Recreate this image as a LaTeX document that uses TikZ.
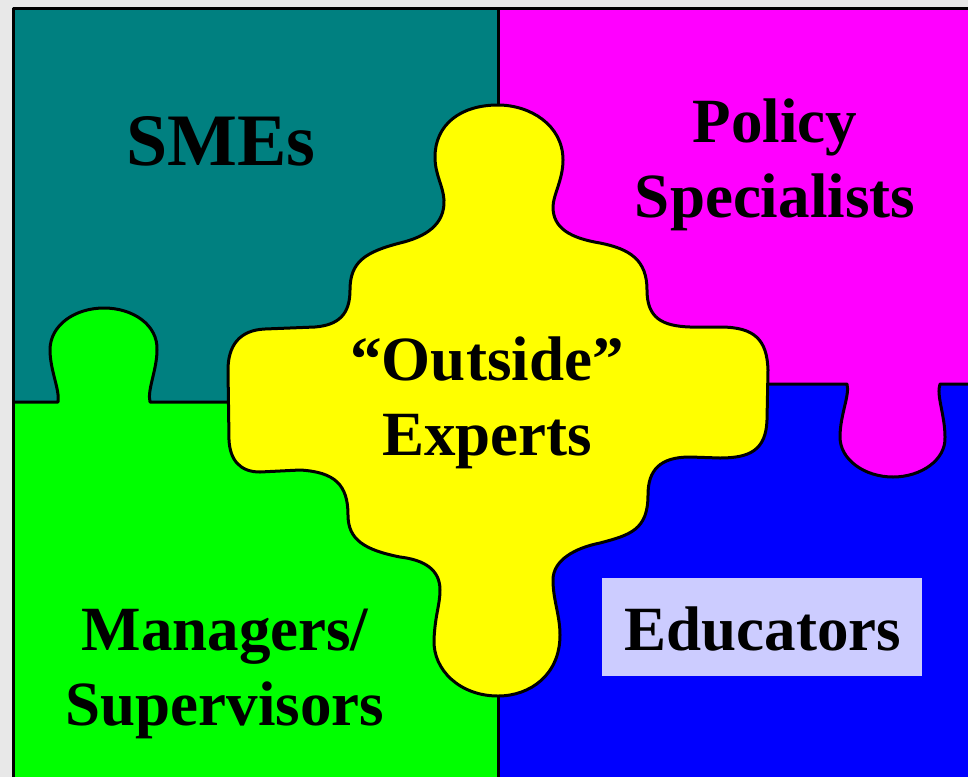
\documentclass[tikz,border=0pt]{standalone}
\usepackage{fontspec}
\setmainfont{Liberation Serif}
\definecolor{bgray}{HTML}{E8E8E8}
\definecolor{teal1}{HTML}{008080}
\definecolor{mag1}{HTML}{FF00FF}
\definecolor{blue1}{HTML}{0000FF}
\definecolor{green1}{HTML}{00FF00}
\definecolor{yel1}{HTML}{FFFF00}
\definecolor{lav1}{HTML}{CCCCFF}
\begin{document}
\begin{tikzpicture}[x=1pt,y=-1pt,
  edge/.style={draw=black,line width=3pt,line join=round},
  bigtext/.style={font=\bfseries\fontsize{63}{75}\selectfont,align=center,inner sep=0pt,text=black},
  hugetext/.style={font=\bfseries\fontsize{74}{88}\selectfont,inner sep=0pt,text=black}]
\useasboundingbox (0,0) rectangle (968,777);
\fill[bgray] (0,0) rectangle (968,777);
% quadrants
\fill[teal1] (13,8) rectangle (498,402);
\fill[mag1] (498,8) rectangle (968,384);
\fill[blue1] (498,384) rectangle (968,777);
\fill[green1] (13,402) rectangle (498,777);
% green tab into teal
\fill[green1] (58,403) .. controls (60,390) and (50,370) .. (50,350)
  .. controls (50,325) and (75,308) .. (104,308)
  .. controls (133,308) and (158,325) .. (157,350)
  .. controls (157,370) and (147,390) .. (150,403) -- cycle;
% magenta tab into blue
\fill[mag1] (847,383) .. controls (850,395) and (840,415) .. (840,437)
  .. controls (840,460) and (865,477) .. (893,477)
  .. controls (921,477) and (946,460) .. (945,437)
  .. controls (945,415) and (936,395) .. (940,383) -- cycle;
% borders
\draw[edge] (13,777) -- (13,8) -- (968,8);
\draw[edge] (498,8) -- (498,777);
\draw[edge] (13,402) -- (58,402) .. controls (60,390) and (50,370) .. (50,350)
  .. controls (50,325) and (75,308) .. (104,308)
  .. controls (133,308) and (158,325) .. (157,350)
  .. controls (157,370) and (147,390) .. (150,402) -- (498,402);
\draw[edge] (498,384) -- (847,384) .. controls (850,395) and (840,415) .. (840,437)
  .. controls (840,460) and (865,477) .. (893,477)
  .. controls (921,477) and (946,460) .. (945,437)
  .. controls (945,415) and (936,395) .. (940,384) -- (968,384);
% yellow central piece
\filldraw[edge,fill=yel1] (498,105)
  .. controls (530,105) and (563,125) .. (563,160)
  .. controls (563,180) and (553,195) .. (553,207)
  .. controls (553,228) and (570,238) .. (600,243)
  .. controls (630,249) and (647,260) .. (647,290)
  .. controls (647,318) and (662,326) .. (690,327)
  -- (720,327)
  .. controls (755,327) and (767,340) .. (768,370)
  -- (767,420)
  .. controls (766,450) and (750,458) .. (720,458)
  -- (690,457)
  .. controls (660,457) and (648,470) .. (648,495)
  .. controls (648,530) and (630,535) .. (600,543)
  .. controls (575,548) and (553,560) .. (553,580)
  .. controls (553,600) and (560,615) .. (560,635)
  .. controls (560,675) and (530,696) .. (498,696)
  .. controls (460,696) and (433,670) .. (434,640)
  .. controls (435,615) and (440,605) .. (440,590)
  .. controls (440,570) and (425,560) .. (400,557)
  .. controls (365,550) and (348,540) .. (348,515)
  .. controls (348,485) and (335,472) .. (300,470)
  -- (260,472)
  .. controls (240,472) and (230,460) .. (229,440)
  -- (228,370)
  .. controls (228,345) and (240,330) .. (265,329)
  -- (315,327)
  .. controls (338,325) and (350,315) .. (350,290)
  .. controls (350,262) and (365,252) .. (400,243)
  .. controls (425,237) and (445,225) .. (444,200)
  .. controls (443,185) and (435,175) .. (435,157)
  .. controls (435,125) and (460,105) .. (498,105) -- cycle;
% texts
\node[hugetext,anchor=base] (smes) at (221,165) {SMEs};
\node[bigtext,anchor=north] (policy) at (775,99) {Policy\\Specialists};
\node[bigtext,anchor=north] (outside) at (487,337) {“Outside”\\Experts};
\node[bigtext,anchor=north] (managers) at (225,609) {Managers/\\Supervisors};
\node[fill=lav1,minimum width=320pt,minimum height=98pt,inner sep=0pt] (edubox) at (762,627) {};
\node[bigtext,anchor=base] (educators) at (763,650) {Educators};
\end{tikzpicture}
\end{document}
